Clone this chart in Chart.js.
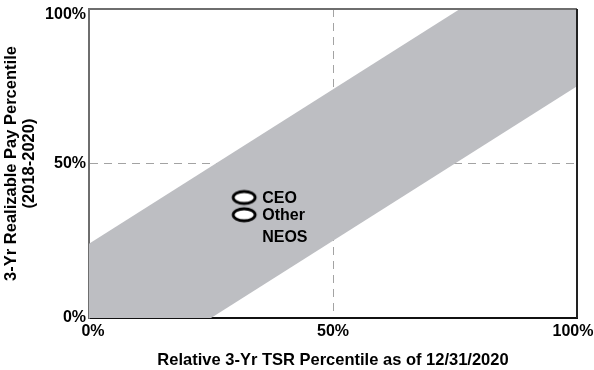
<!DOCTYPE html>
<html>
<head>
<meta charset="utf-8">
<script src="https://cdn.jsdelivr.net/npm/chart.js@4.4.1/dist/chart.umd.min.js"></script>
<style>
  html, body { margin: 0; padding: 0; background: #fff; }
  #wrap { width: 594px; height: 370px; }
</style>
</head>
<body>
<div id="wrap"><canvas id="chart" width="594" height="370"></canvas></div>
<script>
// band polygon (x = TSR percentile, y = pay percentile)
const bandX = [0, 25, 100, 100, 76, 0];
const bandY = [0, 0, 75, 100, 100, 24];

// executives
const execNames = [['CEO'], ['Other', 'NEOS']];
const execX = [31.8, 31.8];
const execY = [39.0, 33.4];

const tickValues = [0, 50, 100];

const FONT = 'Arial, "Liberation Sans", sans-serif';

// ellipse marker
function makeEllipse() {
    var c = document.createElement('canvas');
    c.width = 28; c.height = 18;
    var g = c.getContext('2d');
    g.beginPath();
    g.ellipse(14, 9, 11, 6, 0, 0, Math.PI * 2);
    g.fillStyle = '#fff';
    g.fill();
    g.lineWidth = 2.8;
    g.strokeStyle = '#000';
    g.stroke();
    return c;
}
var ellipse = makeEllipse();

// labels next to the markers + top/right frame
var extras = {
    id: 'extras',
    afterDatasetsDraw: function(chart) {
        var ctx = chart.ctx;
        var meta = chart.getDatasetMeta(0);
        ctx.save();
        ctx.font = 'bold 16px ' + FONT;
        ctx.fillStyle = '#000';
        ctx.textBaseline = 'middle';
        ctx.textAlign = 'left';
        meta.data.forEach(function(pt, i) {
            execNames[i].forEach(function(line, j) {
                ctx.fillText(line, pt.x + 18, pt.y + 1 + j * 22);
            });
        });
        ctx.restore();
    },
    afterDraw: function(chart) {
        var a = chart.chartArea, ctx = chart.ctx;
        ctx.save();
        ctx.lineWidth = 2;
        ctx.strokeStyle = '#6e6e6e';
        ctx.beginPath();
        ctx.moveTo(a.left, a.top); ctx.lineTo(a.right, a.top);
        ctx.stroke();
        ctx.strokeStyle = '#222';
        ctx.beginPath();
        ctx.moveTo(a.right, a.top); ctx.lineTo(a.right, a.bottom);
        ctx.stroke();
        ctx.restore();
    }
};

function gridColor(c) {
    return c.tick && c.tick.value === 50 ? '#a3a3a3' : 'rgba(0,0,0,0)';
}

// end labels are pulled inwards a little, like the original
function xLabel(v) {
    if (v === 0) return '\u2002' + v + '%';
    if (v === 100) return v + '%\u2002';
    return v + '%';
}

new Chart(document.getElementById('chart'), {
    type: 'scatter',
    data: {
        datasets: [{
            label: 'execs',
            data: execX.map((x, i) => ({ x: x, y: execY[i] })),
            pointStyle: ellipse,
            pointRadius: 8
        }, {
            label: 'band',
            data: bandX.map((x, i) => ({ x: x, y: bandY[i] })),
            showLine: true,
            fill: 'shape',
            backgroundColor: '#bdbec2',
            borderColor: '#bdbec2',
            borderWidth: 0,
            pointRadius: 0,
            tension: 0
        }]
    },
    options: {
        responsive: false,
        animation: false,
        layout: { padding: { top: 5, right: 17, left: 0, bottom: 0 } },
        plugins: { legend: { display: false }, tooltip: { enabled: false } },
        scales: {
            x: {
                type: 'linear', min: 0, max: 100, z: 1,
                afterBuildTicks: s => { s.ticks = tickValues.map(v => ({ value: v })); },
                afterFit: s => { s.height = 52; s.paddingLeft = 0; s.paddingRight = 0; },
                ticks: {
                    callback: xLabel,
                    font: { family: FONT, size: 16, weight: 'bold' },
                    color: '#000', padding: 4, maxRotation: 0
                },
                grid: { color: gridColor, lineWidth: 1, drawTicks: false },
                border: { color: '#111', width: 2, dash: [8, 6] },
                title: {
                    display: true,
                    text: 'Relative 3-Yr TSR Percentile as of 12/31/2020',
                    font: { family: FONT, size: 16.5, weight: 'bold' },
                    color: '#000', padding: { top: 2, bottom: 0 }
                }
            },
            y: {
                type: 'linear', min: 0, max: 100, z: 1,
                afterBuildTicks: s => { s.ticks = tickValues.map(v => ({ value: v })); },
                afterFit: s => { s.width = 89; s.paddingTop = 0; s.paddingBottom = 0; },
                ticks: {
                    // top label sits just below the frame, as in the original
                    callback: v => v === 100 ? ['', v + '%'] : v + '%',
                    font: { family: FONT, size: 16, weight: 'bold', lineHeight: 0.7 },
                    color: '#000', padding: 3
                },
                grid: { color: gridColor, lineWidth: 1, drawTicks: false },
                border: { color: '#6e6e6e', width: 2, dash: [8, 6] },
                title: {
                    display: true,
                    text: ['3-Yr Realizable Pay Percentile', '(2018-2020)'],
                    font: { family: FONT, size: 16.5, weight: 'bold', lineHeight: 1.1 },
                    color: '#000', padding: { top: 2, bottom: 0 }
                }
            }
        }
    },
    plugins: [extras]
});
</script>
</body>
</html>
